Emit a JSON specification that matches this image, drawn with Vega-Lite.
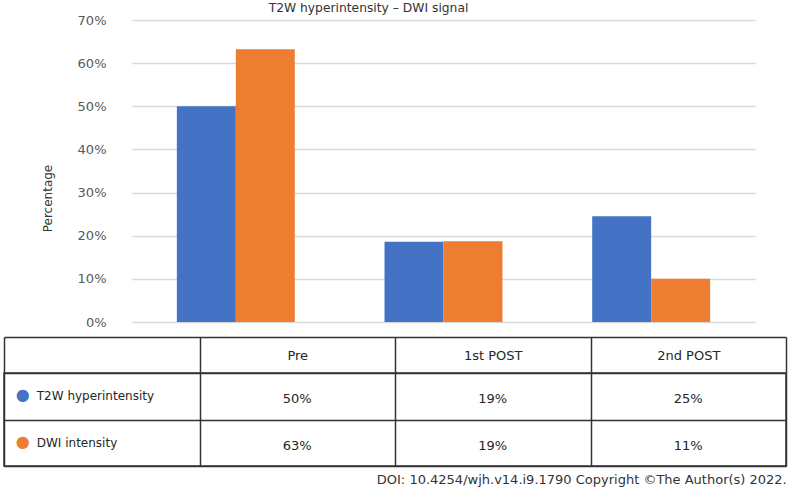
{
  "$schema": "https://vega.github.io/schema/vega-lite/v6.json",
  "background": "white",
  "padding": {"left": 2, "top": 1, "right": 2, "bottom": 0},
  "datasets": {
    "bars": [
      {"stage": "Pre", "series": "T2W hyperintensity", "value": 0.5},
      {"stage": "Pre", "series": "DWI intensity", "value": 0.632},
      {"stage": "1st POST", "series": "T2W hyperintensity", "value": 0.186},
      {"stage": "1st POST", "series": "DWI intensity", "value": 0.187},
      {"stage": "2nd POST", "series": "T2W hyperintensity", "value": 0.245},
      {"stage": "2nd POST", "series": "DWI intensity", "value": 0.1}
    ],
    "cells": [
      {"col": "label", "series": "T2W hyperintensity", "text": "T2W hyperintensity"},
      {"col": "Pre", "series": "T2W hyperintensity", "text": "50%"},
      {"col": "1st POST", "series": "T2W hyperintensity", "text": "19%"},
      {"col": "2nd POST", "series": "T2W hyperintensity", "text": "25%"},
      {"col": "label", "series": "DWI intensity", "text": "DWI intensity"},
      {"col": "Pre", "series": "DWI intensity", "text": "63%"},
      {"col": "1st POST", "series": "DWI intensity", "text": "19%"},
      {"col": "2nd POST", "series": "DWI intensity", "text": "11%"}
    ]
  },
  "spacing": 6,
  "vconcat": [
    {
      "spacing": 10,
      "hconcat": [
        {"width": 27, "height": 10, "data": {"values": []}, "mark": "point"},
        {
          "width": 623,
          "height": 302,
          "data": {"name": "bars"},
          "title": {
            "text": "T2W hyperintensity – DWI signal",
            "fontSize": 12.3,
            "fontWeight": "normal",
            "color": "#333333",
            "anchor": "middle",
            "dx": -75,
            "frame": "group",
            "offset": 0
          },
          "mark": {"type": "bar"},
          "encoding": {
            "x": {
              "field": "stage",
              "type": "nominal",
              "sort": ["Pre", "1st POST", "2nd POST"],
              "axis": null,
              "scale": {"paddingInner": 0.432, "paddingOuter": 0.216}
            },
            "xOffset": {
              "field": "series",
              "type": "nominal",
              "sort": ["T2W hyperintensity", "DWI intensity"],
              "scale": {"paddingInner": 0, "paddingOuter": 0}
            },
            "y": {
              "field": "value",
              "type": "quantitative",
              "scale": {"domain": [0, 0.7], "nice": false},
              "axis": {
                "title": "Percentage",
                "values": [0, 0.1, 0.2, 0.3, 0.4, 0.5, 0.6, 0.7],
                "format": ".0%",
                "domain": false,
                "ticks": false,
                "labelPadding": 26,
                "labelFontSize": 13,
                "labelColor": "#595959",
                "gridColor": "#d9d9d9",
                "gridWidth": 1.5,
                "titleFontSize": 12,
                "titleFontWeight": "normal",
                "titleColor": "#333333",
                "titlePadding": 23,
                "titleY": 178
              }
            },
            "color": {
              "field": "series",
              "type": "nominal",
              "scale": {"domain": ["T2W hyperintensity", "DWI intensity"], "range": ["#4472c4", "#ed7d31"]},
              "legend": null
            }
          }
        }
      ]
    },
    {
      "width": 782,
      "height": 93,
      "data": {"name": "cells"},
      "view": {"stroke": "#333333", "strokeWidth": 1.5},
      "title": {
        "text": "DOI: 10.4254/wjh.v14.i9.1790 Copyright ©The Author(s) 2022.",
        "orient": "bottom",
        "anchor": "end",
        "fontSize": 13,
        "fontWeight": "normal",
        "color": "#333333",
        "offset": 8
      },
      "encoding": {
        "x": {
          "field": "col",
          "type": "nominal",
          "scale": {"domain": ["label", "Pre", "1st POST", "2nd POST"], "paddingInner": 0, "paddingOuter": 0},
          "axis": {
            "orient": "top",
            "offset": 36,
            "title": null,
            "labelAngle": 0,
            "labelExpr": "datum.value == 'label' ? '' : datum.value",
            "labelFontSize": 13,
            "labelColor": "#262626",
            "labelBaseline": "middle",
            "labelPadding": 18,
            "tickSize": -36,
            "tickBand": "extent",
            "tickColor": "#333333",
            "tickWidth": 1.5,
            "domainColor": "#333333",
            "domainWidth": 1.5,
            "grid": true,
            "gridColor": "#333333",
            "gridWidth": 1.5,
            "gridOpacity": 1
          }
        },
        "y": {
          "field": "series",
          "type": "nominal",
          "scale": {"domain": ["T2W hyperintensity", "DWI intensity"], "paddingInner": 0, "paddingOuter": 0},
          "axis": {
            "title": null,
            "labels": false,
            "ticks": false,
            "domain": false,
            "grid": true,
            "tickBand": "extent",
            "gridColor": "#333333",
            "gridWidth": 1.5,
            "gridOpacity": 1
          }
        }
      },
      "layer": [
        {
          "transform": [{"filter": "datum.col != 'label'"}],
          "mark": {"type": "text", "fontSize": 13, "color": "#262626", "dy": 3},
          "encoding": {"text": {"field": "text"}}
        },
        {
          "transform": [{"filter": "datum.col == 'label'"}],
          "mark": {"type": "text", "fontSize": 12, "color": "#262626", "align": "left", "dx": -65},
          "encoding": {"text": {"field": "text"}}
        },
        {
          "transform": [{"filter": "datum.col == 'label'"}],
          "mark": {"type": "text", "fontSize": 16, "dx": -79, "dy": -1, "text": "●"},
          "encoding": {
            "color": {
              "field": "series",
              "type": "nominal",
              "scale": {"domain": ["T2W hyperintensity", "DWI intensity"], "range": ["#4472c4", "#ed7d31"]},
              "legend": null
            }
          }
        }
      ]
    }
  ],
  "config": {
    "font": "DejaVu Sans",
    "view": {"stroke": null}
  }
}
